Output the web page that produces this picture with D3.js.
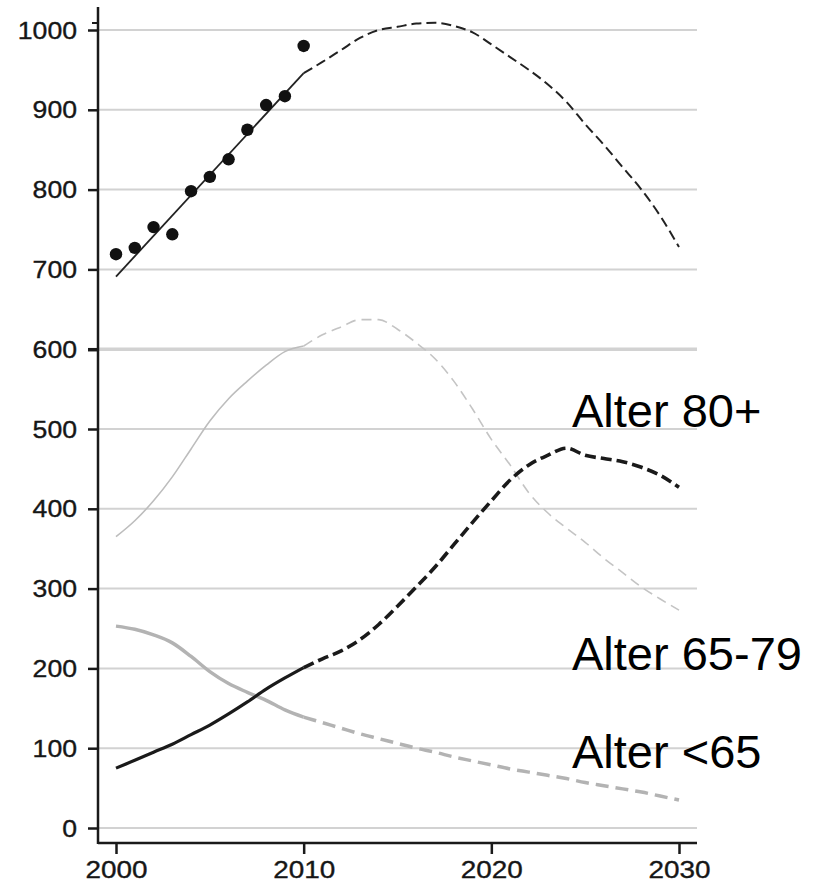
<!DOCTYPE html>
<html>
<head>
<meta charset="utf-8">
<script src="https://cdn.jsdelivr.net/npm/d3@7"></script>
<style>
  html, body { margin: 0; padding: 0; background: #fff; overflow: hidden; }
  svg { display: block; }
</style>
</head>
<body>
<svg id="chart" width="817" height="887"></svg>
<script>
// observed values (dots), 2000-2010
const obsYears = [2000, 2001, 2002, 2003, 2004, 2005, 2006, 2007, 2008, 2009, 2010];
const obsTotal = [719, 727, 753, 744, 798, 816, 838, 875, 906, 917, 980];

// trend line through observations
const fitYears = [2000, 2010];
const fitTotal = [691, 946];

// projection years
const histYears = [2000, 2001, 2002, 2003, 2004, 2005, 2006, 2007, 2008, 2009, 2010];
const projYears = [2010, 2011, 2012, 2013, 2014, 2015, 2016, 2017, 2018, 2019, 2020,
                   2021, 2022, 2023, 2024, 2025, 2026, 2027, 2028, 2029, 2030];

const totalProj = [946, 960, 975, 990, 1000, 1004, 1008, 1009, 1005, 997, 982,
                   966, 950, 932, 910, 882, 856, 828, 800, 767, 728];

const age6579Hist = [365, 385, 410, 440, 475, 510, 538, 560, 580, 597, 604];
const age6579Proj = [604, 618, 628, 637, 637, 625, 608, 588, 560, 525, 487,
                     455, 420, 395, 376, 358, 338, 320, 302, 287, 273];

const age80Hist = [75, 85, 95, 105, 117, 129, 143, 158, 174, 188, 201];
const age80Proj = [201, 212, 222, 236, 255, 278, 302, 327, 355, 383, 410,
                   436, 455, 467, 476, 467, 463, 459, 452, 442, 427];

const ageU65Hist = [253, 249, 242, 232, 215, 196, 181, 170, 160, 148, 139];
const ageU65Proj = [139, 132, 125, 118, 112, 106, 100, 95, 89, 84, 79,
                    74, 70, 66, 62, 57, 53, 49, 45, 40, 35];

const yTicks = [0, 100, 200, 300, 400, 500, 600, 700, 800, 900, 1000];
const xTicks = [2000, 2010, 2020, 2030];

const labels = [
  { text: "Alter 80+", year: 2024.3, value: 502 },
  { text: "Alter 65-79", year: 2024.3, value: 198 },
  { text: "Alter <65", year: 2024.3, value: 75 }
];

const svg = d3.select("#chart");

const x = d3.scaleLinear().domain([2000, 2030]).range([116, 679]);
const y = d3.scaleLinear().domain([0, 1000]).range([828, 30]);

const axisX0 = 98, axisY0 = 843, plotRight = 697, axisTop = 7;
const font = "'Liberation Sans', Arial, sans-serif";

// gridlines
svg.append("g")
  .selectAll("line")
  .data(yTicks)
  .join("line")
  .attr("x1", axisX0)
  .attr("x2", plotRight)
  .attr("y1", d => y(d))
  .attr("y2", d => y(d))
  .attr("stroke", "#d2d2d2")
  .attr("stroke-width", d => d === 600 ? 3.5 : 2);

// axis lines
svg.append("line")
  .attr("x1", axisX0).attr("x2", axisX0)
  .attr("y1", axisTop).attr("y2", axisY0 + 1)
  .attr("stroke", "#1a1a1a").attr("stroke-width", 2.5);
svg.append("line")
  .attr("x1", axisX0).attr("x2", plotRight)
  .attr("y1", axisY0).attr("y2", axisY0)
  .attr("stroke", "#1a1a1a").attr("stroke-width", 2.5);
// small stray mark near the top of the y axis
svg.append("line")
  .attr("x1", axisX0 - 6).attr("x2", axisX0)
  .attr("y1", 23).attr("y2", 23)
  .attr("stroke", "#1a1a1a").attr("stroke-width", 2);

// y axis ticks + labels
const yAxis = svg.append("g")
  .attr("transform", `translate(${axisX0},0)`)
  .call(d3.axisLeft(y).tickValues(yTicks).tickFormat(d3.format("d"))
    .tickSize(10).tickSizeOuter(0).tickPadding(11));
yAxis.select(".domain").remove();
yAxis.attr("font-size", 23).attr("font-family", font);
yAxis.selectAll(".tick line").attr("stroke", "#1a1a1a").attr("stroke-width", d => d === 600 ? 3.5 : 2.5);
yAxis.selectAll(".tick text")
  .attr("fill", "#161616")
  .attr("stroke", "#161616")
  .attr("stroke-width", 0.35)
  .attr("dy", "0.35em")
  .attr("lengthAdjust", "spacingAndGlyphs")
  .attr("textLength", d => String(d).length * 14.8);

// x axis ticks + labels
const xAxis = svg.append("g")
  .attr("transform", `translate(0,${axisY0})`)
  .call(d3.axisBottom(x).tickValues(xTicks).tickFormat(d3.format("d"))
    .tickSize(11).tickSizeOuter(0).tickPadding(8));
xAxis.select(".domain").remove();
xAxis.attr("font-size", 23).attr("font-family", font);
xAxis.selectAll(".tick line").attr("stroke", "#1a1a1a").attr("stroke-width", 2.5);
xAxis.selectAll(".tick text")
  .attr("fill", "#161616")
  .attr("stroke", "#161616")
  .attr("stroke-width", 0.35)
  .attr("lengthAdjust", "spacingAndGlyphs")
  .attr("textLength", 62);

const line = d3.line()
  .x(d => x(d[0]))
  .y(d => y(d[1]))
  .curve(d3.curveMonotoneX);

const zip = (xs, ys) => xs.map((v, i) => [v, ys[i]]);

const series = [
  { pts: zip(histYears, age6579Hist), color: "#bdbdbd", width: 1.6, dash: null },
  { pts: zip(projYears, age6579Proj), color: "#c4c4c4", width: 1.6, dash: "10,6" },
  { pts: zip(histYears, ageU65Hist), color: "#b3b3b3", width: 3.5, dash: null },
  { pts: zip(projYears, ageU65Proj), color: "#b3b3b3", width: 3.5, dash: "13,7" },
  { pts: zip(histYears, age80Hist), color: "#1a1a1a", width: 3.2, dash: null },
  { pts: zip(projYears, age80Proj), color: "#1a1a1a", width: 3.6, dash: "11,5" },
  { pts: zip(fitYears, fitTotal), color: "#222", width: 1.8, dash: null },
  { pts: zip(projYears, totalProj), color: "#222", width: 2, dash: "10,5" }
];

svg.append("g")
  .attr("class", "lines-layer")
  .selectAll("path")
  .data(series)
  .join("path")
  .attr("d", d => line(d.pts))
  .attr("fill", "none")
  .attr("stroke", d => d.color)
  .attr("stroke-width", d => d.width)
  .attr("stroke-dasharray", d => d.dash)
  .attr("stroke-linecap", "butt");

// observed dots
svg.append("g")
  .selectAll("circle")
  .data(zip(obsYears, obsTotal))
  .join("circle")
  .attr("cx", d => x(d[0]))
  .attr("cy", d => y(d[1]))
  .attr("r", 6.2)
  .attr("fill", "#111");

// series labels
svg.append("g")
  .selectAll("text")
  .data(labels)
  .join("text")
  .attr("x", d => x(d.year))
  .attr("y", d => y(d.value))
  .attr("fill", "#000")
  .attr("font-family", font)
  .attr("font-size", 47)
  .text(d => d.text);
</script>
</body>
</html>
